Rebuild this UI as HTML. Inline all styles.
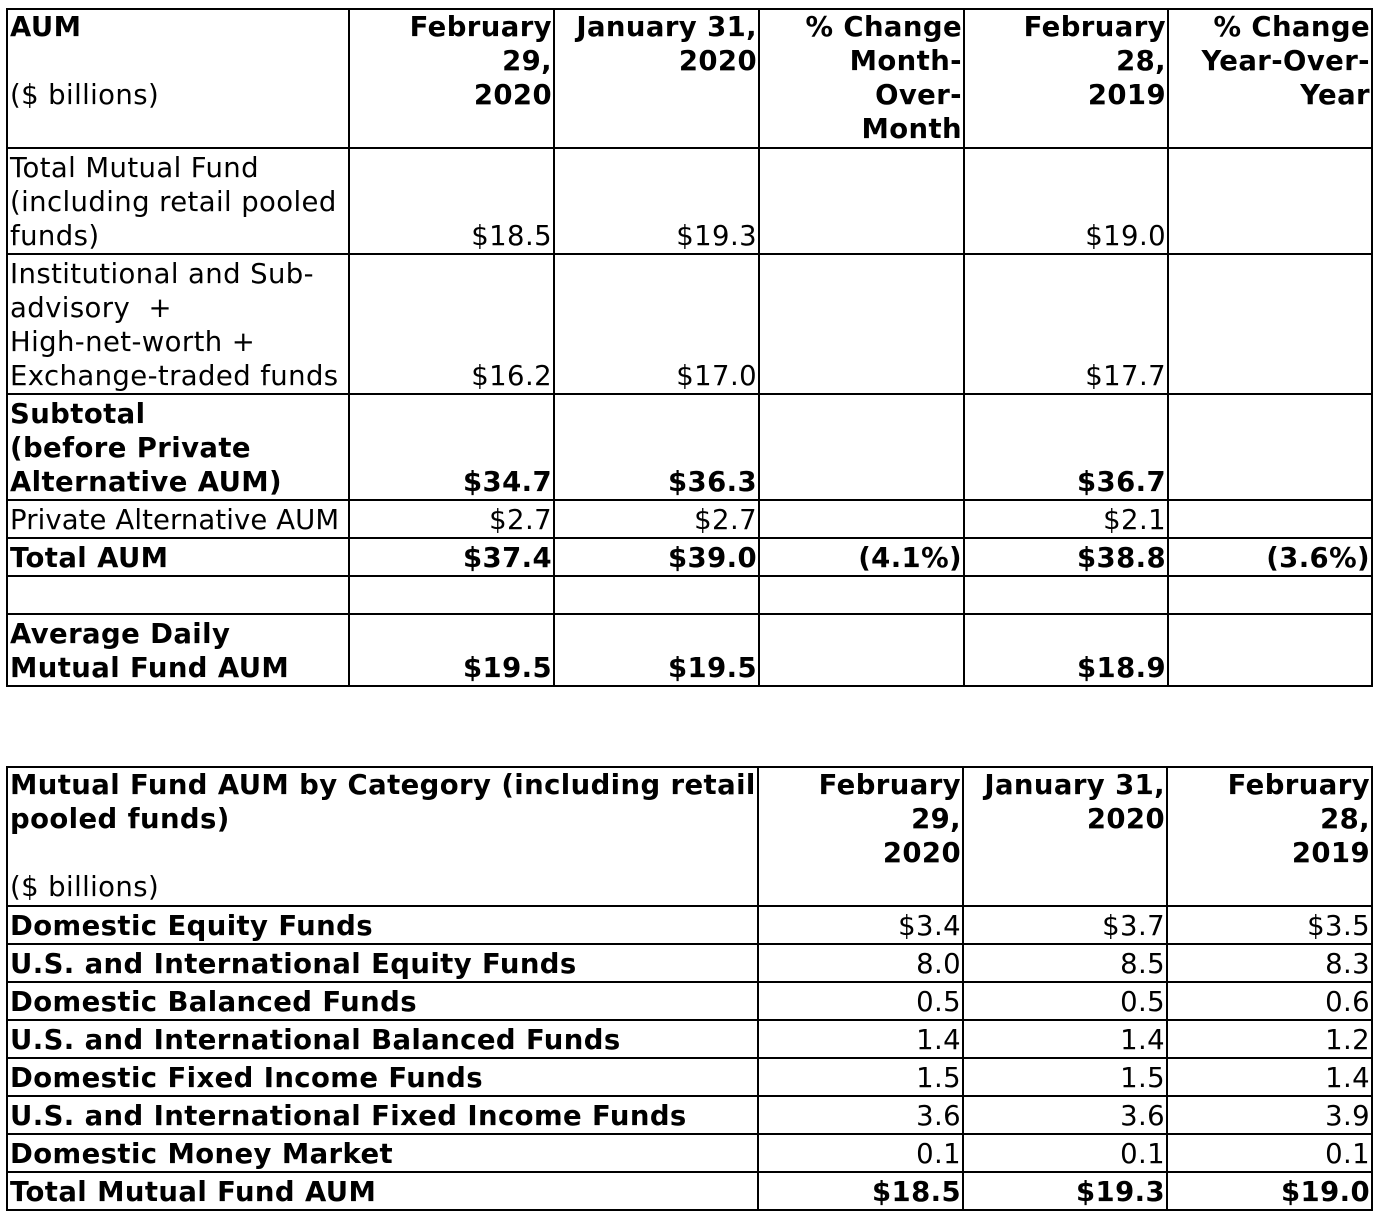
<!DOCTYPE html>
<html><head><meta charset="utf-8"><style>
body{margin:0;background:#fff;font-family:"DejaVu Sans","Liberation Sans",sans-serif;font-size:27.5px;line-height:34px;color:#000;letter-spacing:0.4px}
table{position:absolute;border-collapse:collapse;table-layout:fixed}
td{border:2px solid #000;padding:0 1px 0 2px;vertical-align:bottom;text-align:right;overflow:hidden;white-space:nowrap}
td.l{text-align:left}
.b{font-weight:bold}
.t td{vertical-align:top}
</style></head><body>
<table style="left:6px;top:8px;width:1365px">
<colgroup><col style="width:342px"><col style="width:205px"><col style="width:205px"><col style="width:205px"><col style="width:204px"><col style="width:204px"></colgroup>
<tr class="t" style="height:139px"><td class="l"><b>AUM</b><br><br>($ billions)</td><td class="b">February<br>29,<br>2020</td><td class="b">January 31,<br>2020</td><td class="b">% Change<br>Month-<br>Over-<br>Month</td><td class="b">February<br>28,<br>2019</td><td class="b">% Change<br>Year-Over-<br>Year</td></tr>
<tr style="height:106px"><td class="l">Total Mutual Fund<br>(including retail pooled<br>funds)</td><td>$18.5</td><td>$19.3</td><td></td><td>$19.0</td><td></td></tr>
<tr style="height:140px"><td class="l">Institutional and Sub-<br>advisory &nbsp;+<br>High-net-worth +<br>Exchange-traded funds</td><td>$16.2</td><td>$17.0</td><td></td><td>$17.7</td><td></td></tr>
<tr style="height:106px" class="b"><td class="l">Subtotal<br>(before Private<br>Alternative AUM)</td><td>$34.7</td><td>$36.3</td><td></td><td>$36.7</td><td></td></tr>
<tr style="height:38px"><td class="l" style="letter-spacing:0.1px">Private Alternative AUM</td><td>$2.7</td><td>$2.7</td><td></td><td>$2.1</td><td></td></tr>
<tr style="height:38px" class="b"><td class="l">Total AUM</td><td>$37.4</td><td>$39.0</td><td>(4.1%)</td><td>$38.8</td><td>(3.6%)</td></tr>
<tr style="height:38px"><td class="l"></td><td></td><td></td><td></td><td></td><td></td></tr>
<tr style="height:72px" class="b"><td class="l">Average Daily<br>Mutual Fund AUM</td><td>$19.5</td><td>$19.5</td><td></td><td>$18.9</td><td></td></tr>
</table>
<table style="left:6px;top:766px;width:1365px">
<colgroup><col style="width:751px"><col style="width:205px"><col style="width:204px"><col style="width:205px"></colgroup>
<tr class="t" style="height:139px"><td class="l"><b>Mutual Fund AUM by Category (including retail<br>pooled funds)</b><br><br>($ billions)</td><td class="b">February<br>29,<br>2020</td><td class="b">January 31,<br>2020</td><td class="b">February<br>28,<br>2019</td></tr>
<tr style="height:38px"><td class="l b">Domestic Equity Funds</td><td>$3.4</td><td>$3.7</td><td>$3.5</td></tr>
<tr style="height:38px"><td class="l b">U.S. and International Equity Funds</td><td>8.0</td><td>8.5</td><td>8.3</td></tr>
<tr style="height:38px"><td class="l b">Domestic Balanced Funds</td><td>0.5</td><td>0.5</td><td>0.6</td></tr>
<tr style="height:38px"><td class="l b">U.S. and International Balanced Funds</td><td>1.4</td><td>1.4</td><td>1.2</td></tr>
<tr style="height:38px"><td class="l b">Domestic Fixed Income Funds</td><td>1.5</td><td>1.5</td><td>1.4</td></tr>
<tr style="height:38px"><td class="l b">U.S. and International Fixed Income Funds</td><td>3.6</td><td>3.6</td><td>3.9</td></tr>
<tr style="height:38px"><td class="l b">Domestic Money Market</td><td>0.1</td><td>0.1</td><td>0.1</td></tr>
<tr style="height:38px" class="b"><td class="l">Total Mutual Fund AUM</td><td>$18.5</td><td>$19.3</td><td>$19.0</td></tr>
</table>
</body></html>
